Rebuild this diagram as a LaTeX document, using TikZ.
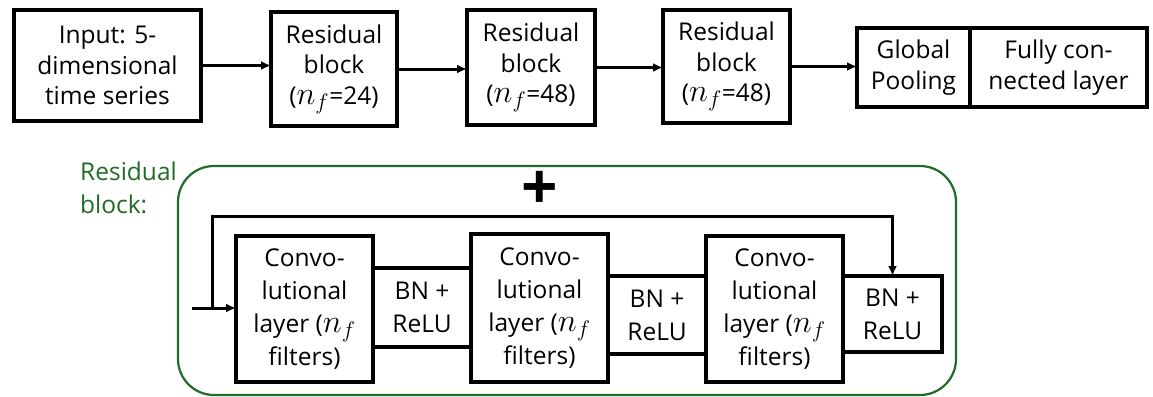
\documentclass[tikz,border=0pt]{standalone}
\usepackage{fontspec}
\setmainfont{Open Sans}
\usetikzlibrary{arrows.meta}
\definecolor{resgreen}{RGB}{32,108,38}
\newcommand{\nfsym}{\scalebox{1.3}{$n_f$}}
\tikzset{
  blk/.style={draw=black, line width=3.2pt, inner sep=0pt, outer sep=0pt, align=center,
    font=\fontsize{24.5}{30.5}\selectfont},
  lowblk/.style={blk, font=\fontsize{24.5}{33}\selectfont},
  arr/.style={line width=3pt, -{Latex[length=10pt,width=9pt]}},
}
\begin{document}
\begin{tikzpicture}[x=1pt,y=-1pt]
\useasboundingbox (0,0) rectangle (1153,396);
% top row
\node[blk, minimum width=187pt, minimum height=111pt] (inp) at (107.5,65.5) {Input: 5-\\dimensional\\time series};
\node[blk, minimum width=126pt, minimum height=114pt] (r1) at (334,69) {Residual\\block\\(\nfsym=24)};
\node[blk, minimum width=128pt, minimum height=115pt] (r2) at (531,67.5) {Residual\\block\\(\nfsym=48)};
\node[blk, minimum width=127pt, minimum height=113pt] (r3) at (726.5,66.5) {Residual\\block\\(\nfsym=48)};
\node[blk, minimum width=113pt, minimum height=79pt] (gp) at (913.5,67.5) {Global\\Pooling};
\node[blk, minimum width=177pt, minimum height=79pt] (fc) at (1058.5,67.5) {Fully con-\\nected layer};
\draw[arr] (inp.east) -- (inp.east -| r1.west);
\draw[arr] (r1.east) -- (r1.east -| r2.west);
\draw[arr] (r2.east) -- (r2.east -| r3.west);
\draw[arr] (r3.east) -- (r3.east -| gp.west);
% residual block detail
\draw[resgreen, line width=2.2pt, rounded corners=36pt] (178,166) rectangle (956,395);
\node[anchor=north west, inner sep=0pt, align=left, text=resgreen,
  font=\fontsize{24.5}{33}\selectfont] (lbl) at (80,162) {Residual\\block:};
\node[inner sep=0pt, font=\fontsize{64}{64}\selectfont\bfseries] (plus) at (540,190) {+};
\node[lowblk, minimum width=98pt, minimum height=79pt] (b1) at (422,307.5) {BN +\\ReLU};
\node[lowblk, minimum width=98pt, minimum height=78pt] (b2) at (657,315) {BN +\\ReLU};
\node[lowblk, minimum width=99pt, minimum height=76pt] (b3) at (892.5,314) {BN +\\ReLU};
\node[lowblk, minimum width=137pt, minimum height=146pt] (c1) at (304.5,309) {Convo-\\lutional\\layer (\nfsym\\filters)};
\node[lowblk, minimum width=137pt, minimum height=148pt] (c2) at (539.5,308) {Convo-\\lutional\\layer (\nfsym\\filters)};
\node[lowblk, minimum width=137pt, minimum height=146pt] (c3) at (774.5,309) {Convo-\\lutional\\layer (\nfsym\\filters)};
\coordinate (in) at (192,308);
\coordinate (br) at (212,308);
\coordinate (sk) at (212,216);
\draw[arr] (in) -- (in -| c1.west);
\draw[arr] (br) -- (sk) -| (b3.north);
\end{tikzpicture}
\end{document}
